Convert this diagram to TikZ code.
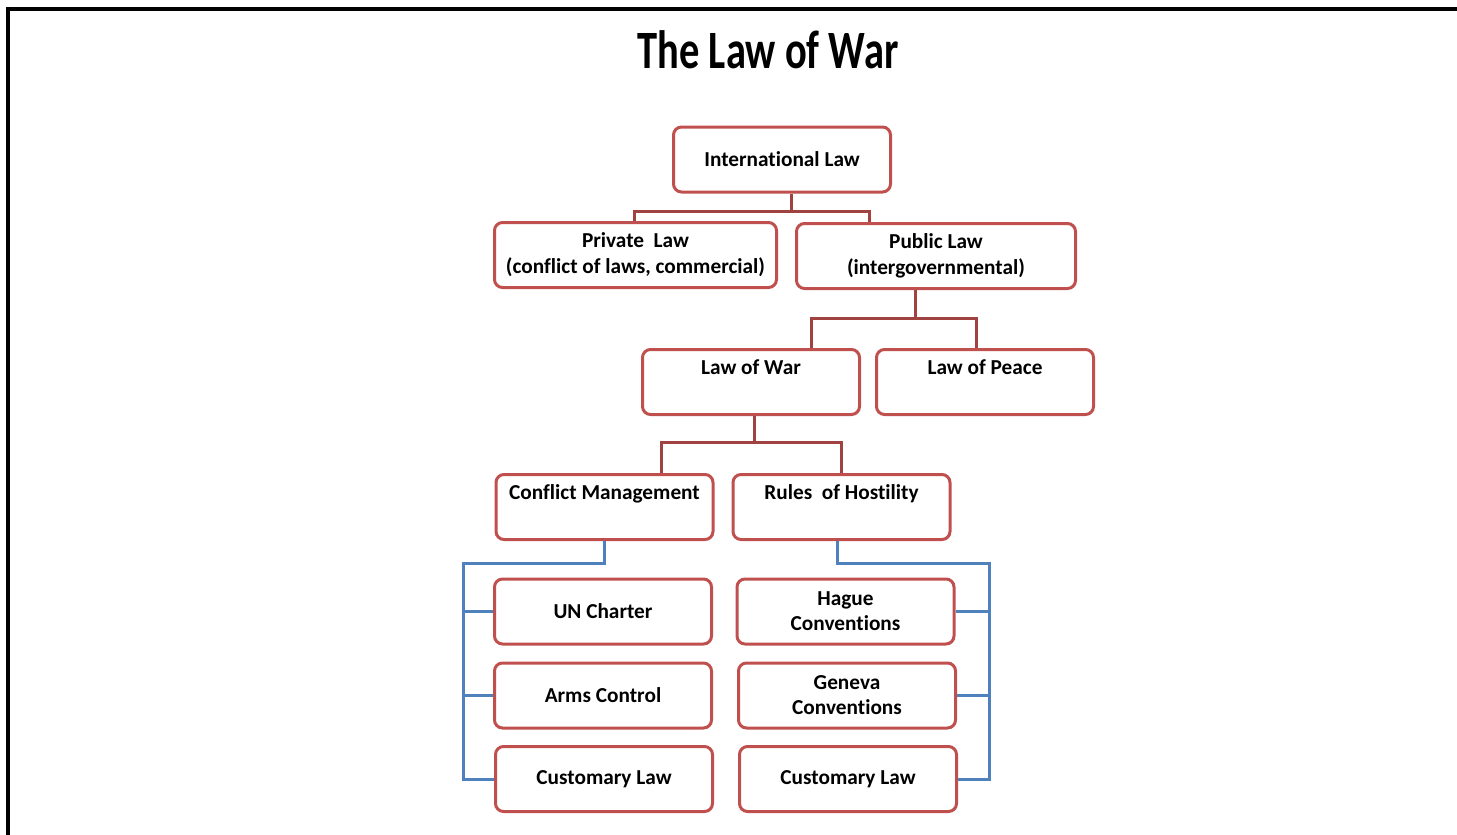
\documentclass[tikz,border=0pt]{standalone}
\usepackage{fontspec}
\setmainfont{Carlito}[Ligatures=CommonOff]
\newfontfamily\titlefont[FakeStretch=0.75,Ligatures=CommonOff]{Carlito}
\definecolor{boxred}{RGB}{192,80,77}
\definecolor{linered}{RGB}{160,66,64}
\definecolor{lineblue}{RGB}{79,129,189}
\begin{document}
\begin{tikzpicture}[x=1pt,y=-1pt,
		box/.style={draw=boxred, line width=3pt, rounded corners=8pt, fill=white, minimum width=217pt, minimum height=65pt, inner sep=0pt, align=center, font=\bfseries\fontsize{21.3}{25}\selectfont},
		topbox/.style={box, text height=14pt, text depth=30pt},
		redline/.style={draw=linered, line width=3pt},
		blueline/.style={draw=lineblue, line width=3pt}]
	\useasboundingbox (0,0) rectangle (1457,835);
	% frame and title
	\draw[line width=4pt] (8,840) -- (8,9) -- (1460,9);
	\node[font=\titlefont\bfseries\fontsize{54}{60}\selectfont, anchor=base] (title) at (768,68) {The Law of War};
	% boxes
	\node[box] at (782,159.5) (intl) {International Law};
	\node[box, minimum width=282pt, font=\bfseries\fontsize{21.3}{26}\selectfont] at (635.5,255) (priv) {Private\ \ Law\\(conflict of laws, commercial)};
	\node[box, minimum width=279pt, font=\bfseries\fontsize{21.3}{26}\selectfont] at (936,256) (publ) {Public Law\\(intergovernmental)};
	\node[topbox] at (751,382) (war) {Law of War};
	\node[topbox] at (985,382) (peace) {Law of Peace};
	\node[topbox] at (604.5,507) (confl) {Conflict Management};
	\node[topbox] at (841.5,507) (rules) {Rules\ \ of Hostility};
	\node[box] at (603,611.5) (un) {UN Charter};
	\node[box] at (603,695.5) (arms) {Arms Control};
	\node[box] at (604,779) (custl) {Customary Law};
	\node[box] at (845.5,611.5) (hague) {Hague\\Conventions};
	\node[box] at (847,695.5) (geneva) {Geneva\\Conventions};
	\node[box] at (848,779) (custr) {Customary Law};
	% red connectors
	\coordinate (j1) at (791,211);
	\coordinate (a1) at (634,211);
	\coordinate (a2) at (869,211);
	\draw[redline] (intl.south -| j1) -- (j1);
	\draw[redline] (priv.north -| a1) |- (a2) -- (a2 |- publ.north);
	\coordinate (j2) at (915,318);
	\coordinate (b1) at (811,318);
	\coordinate (b2) at (976,318);
	\draw[redline] (publ.south -| j2) -- (j2);
	\draw[redline] (war.north -| b1) |- (b2) -- (b2 |- peace.north);
	\coordinate (j3) at (754,442);
	\coordinate (c1) at (661,442);
	\coordinate (c2) at (841,442);
	\draw[redline] (war.south -| j3) -- (j3);
	\draw[redline] (confl.north -| c1) |- (c2) -- (c2 |- rules.north);
	% blue connectors
	\coordinate (bl) at (463,563);
	\draw[blueline] (confl.south) |- (bl) |- (custl.west);
	\draw[blueline] (bl |- un.west) -- (un.west);
	\draw[blueline] (bl |- arms.west) -- (arms.west);
	\coordinate (br) at (837,563);
	\coordinate (bv) at (989,563);
	\draw[blueline] (rules.south -| br) -- (br) -- (bv) |- (custr.east);
	\draw[blueline] (hague.east) -- (hague.east -| bv);
	\draw[blueline] (geneva.east) -- (geneva.east -| bv);
\end{tikzpicture}
\end{document}
